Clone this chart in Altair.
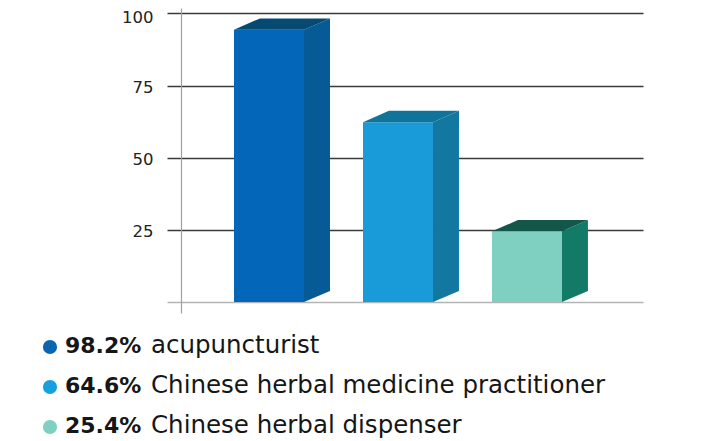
import altair as alt
import pandas as pd

# ---- data ----
categories = ["acupuncturist", "Chinese herbal medicine practitioner", "Chinese herbal dispenser"]
percent = [98.2, 64.6, 25.4]
front_top = [94.4, 62.3, 24.5]   # top edge of the visible front face
back_top = [98.3, 66.3, 28.4]    # top edge of the rear (depth) face
front_colors = ["#0366b8", "#189bd8", "#80d0c2"]
side_colors = ["#065a96", "#12789f", "#127a66"]
top_colors = ["#064a72", "#107399", "#13574a"]
dot_colors = ["#0b66b2", "#16a0de", "#80d0c2"]
y_ticks = [0, 25, 50, 75, 100]

# ---- geometry (in scale units) ----
BAR_W = 70 / 129
DX = 26 / 129
DY = 3.81
X_DOMAIN = [-0.411, 3.171]
Y_DOMAIN = [-3.81, 101.9]

front_rows, side_rows, top_rows = [], [], []
for i, cat in enumerate(categories):
    ft, bt = front_top[i], back_top[i]
    front_rows.append(dict(bar=cat, x=i, x2=i + BAR_W, hi=ft, lo=0, color=front_colors[i]))
    side_rows += [
        dict(bar=cat, x=i + BAR_W, hi=ft, lo=0, color=side_colors[i]),
        dict(bar=cat, x=i + BAR_W + DX, hi=bt, lo=DY, color=side_colors[i]),
    ]
    top_rows += [
        dict(bar=cat, x=i, hi=ft, lo=ft, color=top_colors[i]),
        dict(bar=cat, x=i + DX, hi=bt, lo=ft, color=top_colors[i]),
        dict(bar=cat, x=i + BAR_W, hi=bt, lo=ft, color=top_colors[i]),
        dict(bar=cat, x=i + BAR_W + DX, hi=bt, lo=bt, color=top_colors[i]),
    ]

front_df = pd.DataFrame(front_rows)
side_df = pd.DataFrame(side_rows)
top_df = pd.DataFrame(top_rows)
legend_df = pd.DataFrame({
    "cat": categories,
    "pct": [f"{p}%" for p in percent],
    "color": dot_colors,
})

xs = alt.Scale(domain=X_DOMAIN, nice=False, zero=False)
ys = alt.Scale(domain=Y_DOMAIN, nice=False, zero=False)

grid_cond = alt.condition("datum.value == 0", alt.value("#b4b4b4"), alt.value("#3a3a3a"))

yaxis = alt.Axis(
    values=y_ticks, grid=True, gridColor=grid_cond, gridWidth=1.5,
    tickSize=14, tickColor=grid_cond, tickWidth=1.5,
    domainColor="#a0a0a0", domainWidth=1.2,
    labelExpr="datum.value == 0 ? '' : datum.label",
    labelFontSize=16.5, labelColor="#222222", labelFont="DejaVu Sans",
    labelBaseline="alphabetic",
    labelOffset=alt.condition("datum.value == 100", alt.value(9.5), alt.value(7)),
    labelPadding=14, title=None,
)

front = alt.Chart(front_df).mark_rect().encode(
    x=alt.X("x:Q", scale=xs, axis=None),
    x2="x2:Q",
    y=alt.Y("hi:Q", scale=ys, axis=yaxis),
    y2="lo:Q",
    color=alt.Color("color:N", scale=None),
)

side = alt.Chart(side_df).mark_area().encode(
    x=alt.X("x:Q", scale=xs),
    y=alt.Y("hi:Q", scale=ys),
    y2="lo:Q",
    detail="bar:N",
    color=alt.Color("color:N", scale=None),
)

top = alt.Chart(top_df).mark_area().encode(
    x=alt.X("x:Q", scale=xs),
    y=alt.Y("hi:Q", scale=ys),
    y2="lo:Q",
    detail="bar:N",
    color=alt.Color("color:N", scale=None),
)

bars = alt.layer(front, side, top)

ly = alt.Y("cat:N", scale=alt.Scale(type="point", domain=categories, range=[339, 419], padding=0), axis=None)

dots = alt.Chart(legend_df).mark_circle(size=200, opacity=1).encode(
    x=alt.value(-131), y=ly, color=alt.Color("color:N", scale=None)
)
bold = alt.Chart(legend_df).mark_text(
    align="left", baseline="alphabetic", dy=6, font="DejaVu Sans", fontWeight="bold",
    fontSize=22, color="#161616",
).encode(x=alt.value(-116), y=ly, text="pct:N")
reg = alt.Chart(legend_df).mark_text(
    align="left", baseline="alphabetic", dy=6, font="DejaVu Sans",
    fontSize=24.5, color="#161616",
).encode(x=alt.value(-30), y=ly, text="cat:N")

legend = alt.layer(dots, bold, reg)

chart = alt.layer(bars, legend).resolve_scale(y="independent").properties(
    width=462, height=305,
    padding={"left": 173, "top": 0, "right": 69, "bottom": 128},
    autosize=alt.AutoSizeParams(type="none"),
    background="white",
).configure_view(stroke=None)

chart.save("out.html", embed_options={"renderer": "svg", "actions": False})
